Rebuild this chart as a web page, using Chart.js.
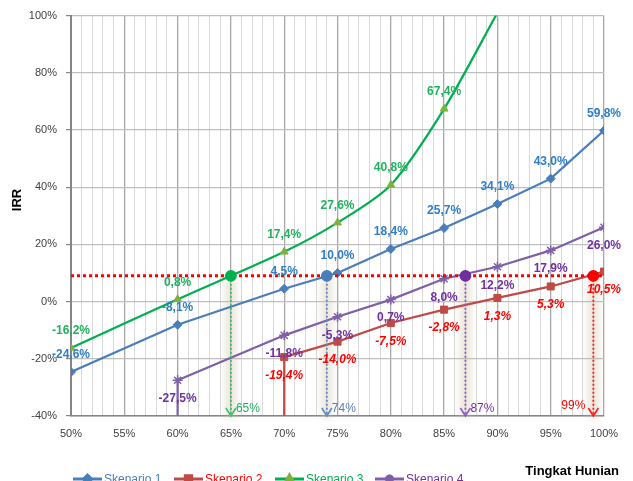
<!DOCTYPE html>
<html>
<head>
<meta charset="utf-8">
<script src="https://cdn.jsdelivr.net/npm/chart.js@4/dist/chart.umd.min.js"></script>
<style>
  html, body { margin: 0; padding: 0; background: #ffffff; }
  #wrap { width: 633px; height: 481px; position: relative; }
</style>
</head>
<body>
<div id="wrap"><canvas id="irrChart" width="633" height="481"></canvas></div>
<script>
// Occupancy levels (%) and IRR (%) per scenario
const occupancy1 = [50, 60, 70, 75, 80, 85, 90, 95, 100];
const irr1 = [-24.6, -8.1, 4.5, 10.0, 18.4, 25.7, 34.1, 43.0, 59.8];

const occupancy2 = [70, 70, 75, 80, 85, 90, 95, 100];
const irr2 = [-100, -19.4, -14.0, -7.5, -2.8, 1.3, 5.3, 10.5];

const occupancy3 = [50, 60, 70, 75, 80, 85, 90];
const irr3 = [-16.2, 0.8, 17.4, 27.6, 40.8, 67.4, 101];

const occupancy4 = [60, 60, 70, 75, 80, 85, 90, 95, 100];
const irr4 = [-100, -27.5, -11.8, -5.3, 0.7, 8.0, 12.2, 17.9, 26.0];

const seriesNames = ['Skenario 1', 'Skenario 2', 'Skenario 3', 'Skenario 4'];

// Target IRR and the occupancy at which each scenario reaches it
const hurdleRate = 9;
const breakEvenOccupancy = [65, 74, 87, 99];

// Axis ticks
const xTicks = [50, 55, 60, 65, 70, 75, 80, 85, 90, 95, 100];
const yTicks = [-40, -20, 0, 20, 40, 60, 80, 100];

const lineColors = ['#4A7EBB', '#BE4B48', '#00B050', '#7F60A8'];
const labelColors = ['#2F7EC6', '#FF0000', '#1FB25E', '#7030A0'];
const legendTextColors = ['#4A7EBB', '#FF0000', '#00B050', '#7030A0'];
const dropColors = ['#3FBF6E', '#5C88C4', '#8A5CC4', '#FF1A1A'];
const dropTextColors = ['#1FB25E', '#5A7DB0', '#7030A0', '#FF0000'];
const dotColors = ['#00B050', '#4A7EBB', '#7030A0', '#FF0000'];

const FONT = "'Liberation Sans', Arial, sans-serif";

function pts(xs, ys) { return xs.map((x, i) => ({ x: x, y: ys[i] })); }
function fmt(v) { return v.toFixed(1).replace('.', ',') + '%'; }

const seriesStyles = [
  { pointStyle: 'rectRot', pointRadius: 4.5, tension: 0 },
  { pointStyle: 'rect', pointRadius: 5, tension: 0 },
  { pointStyle: 'triangle', pointRadius: 4.5, tension: 0.28 },
  { pointStyle: 'star', pointRadius: 5, tension: 0 }
];
const markerFill = ['#4A7EBB', '#BE4B48', '#7DB33C', '#7F60A8'];
const markerStroke = ['#4A7EBB', '#BE4B48', '#7DB33C', '#7F60A8'];
const seriesData = [pts(occupancy1, irr1), pts(occupancy2, irr2), pts(occupancy3, irr3), pts(occupancy4, irr4)];

const datasets = seriesData.map((d, i) => ({
  label: seriesNames[i],
  data: d,
  borderColor: lineColors[i],
  backgroundColor: markerFill[i],
  pointBorderColor: markerStroke[i],
  pointBackgroundColor: markerFill[i],
  pointBorderWidth: i === 3 ? 1.5 : 1,
  borderWidth: 2.2,
  pointStyle: seriesStyles[i].pointStyle,
  pointRadius: d.map(p => (p.y < -40 || p.y > 100) ? 0 : seriesStyles[i].pointRadius),
  tension: seriesStyles[i].tension,
  order: 5,
  isSeries: true
}));

// Target IRR line
datasets.push({
  label: 'hurdle',
  data: [{ x: 50, y: hurdleRate }, { x: 100, y: hurdleRate }],
  borderColor: '#FF0000',
  borderWidth: 3,
  borderDash: [3, 3],
  borderCapStyle: 'butt',
  pointRadius: 0,
  order: 3
});

// Drop lines from the crossing points to the occupancy axis
breakEvenOccupancy.forEach((x, i) => {
  datasets.push({
    label: 'drop' + i,
    data: [{ x: x, y: hurdleRate }, { x: x, y: -40 }],
    borderColor: dropColors[i],
    borderWidth: 1.8,
    borderDash: [2, 2],
    borderCapStyle: 'butt',
    pointRadius: [5, 0],
    pointBackgroundColor: dotColors[i],
    pointBorderColor: dotColors[i],
    pointStyle: 'circle',
    order: 1
  });
});

const decorations = {
  id: 'decorations',
  beforeDatasetsDraw(chart) {
    const { ctx, scales: { x, y } } = chart;
    ctx.save();
    // soft shadow band behind each drop line
    breakEvenOccupancy.forEach((v) => {
      const px = x.getPixelForValue(v);
      const top = y.getPixelForValue(hurdleRate);
      const bot = y.getPixelForValue(-40);
      ctx.filter = 'blur(3px)';
      ctx.fillStyle = 'rgba(200, 190, 160, 0.35)';
      ctx.fillRect(px - 6, top + 2, 12, bot - top);
    });
    ctx.restore();
  },
  afterDatasetsDraw(chart) {
    const { ctx, scales: { x, y } } = chart;
    ctx.save();
    // value labels
    ctx.textAlign = 'center';
    ctx.textBaseline = 'middle';
    chart.data.datasets.forEach((ds, di) => {
      if (!ds.isSeries) return;
      const meta = chart.getDatasetMeta(di);
      ctx.fillStyle = labelColors[di];
      ctx.font = (di === 1 ? 'italic ' : '') + 'bold 12px ' + FONT;
      const above = (di === 0 || di === 2);
      meta.data.forEach((el, k) => {
        const v = ds.data[k].y;
        if (v < -40 || v > 100) return;
        const ty = above ? el.y - 17 : el.y + 18.5;
        ctx.fillText(fmt(v), el.x, ty);
      });
    });
    // arrowheads and occupancy labels at the bottom of the drop lines
    const bot = y.getPixelForValue(-40);
    breakEvenOccupancy.forEach((v, i) => {
      const px = x.getPixelForValue(v);
      ctx.strokeStyle = dropColors[i];
      ctx.lineWidth = 1.6;
      ctx.setLineDash([]);
      ctx.beginPath();
      ctx.moveTo(px - 5, bot - 8);
      ctx.lineTo(px, bot);
      ctx.lineTo(px + 5, bot - 8);
      ctx.stroke();
      ctx.fillStyle = dropTextColors[i];
      ctx.font = '12px ' + FONT;
      ctx.textBaseline = 'middle';
      if (i === 3) {
        ctx.textAlign = 'right';
        ctx.fillText(v + '%', px - 8, bot - 10);
      } else {
        ctx.textAlign = 'left';
        ctx.fillText(v + '%', px + 5, bot - 7);
      }
    });
    ctx.restore();
  },
  afterDraw(chart) {
    const { ctx } = chart;
    ctx.save();
    // y axis title
    ctx.fillStyle = '#000000';
    ctx.font = 'bold 13px ' + FONT;
    ctx.textAlign = 'center';
    ctx.textBaseline = 'middle';
    ctx.translate(17, 200);
    ctx.rotate(-Math.PI / 2);
    ctx.fillText('IRR', 0, 0);
    ctx.restore();

    ctx.save();
    // x axis title
    ctx.fillStyle = '#000000';
    ctx.font = 'bold 13px ' + FONT;
    ctx.textAlign = 'right';
    ctx.textBaseline = 'middle';
    ctx.fillText('Tingkat Hunian', 619, 471);

    // legend
    const legendX = [73, 174, 275, 375];
    const ly = 479;
    seriesNames.forEach((name, i) => {
      const x0 = legendX[i];
      ctx.strokeStyle = lineColors[i];
      ctx.lineWidth = 3;
      ctx.beginPath();
      ctx.moveTo(x0, ly);
      ctx.lineTo(x0 + 29, ly);
      ctx.stroke();
      ctx.fillStyle = markerFill[i];
      ctx.strokeStyle = markerStroke[i];
      Chart.helpers.drawPoint(ctx, {
        pointStyle: seriesStyles[i].pointStyle,
        radius: seriesStyles[i].pointRadius - 0.5,
        rotation: 0,
        borderWidth: i === 3 ? 1.5 : 1
      }, x0 + 14.5, ly);
      ctx.fillStyle = legendTextColors[i];
      ctx.font = '12px ' + FONT;
      ctx.textAlign = 'left';
      ctx.textBaseline = 'alphabetic';
      ctx.fillText(name, x0 + 31, 483);
    });
    ctx.restore();
  }
};

new Chart(document.getElementById('irrChart'), {
  type: 'line',
  data: { datasets: datasets },
  options: {
    responsive: false,
    animation: false,
    layout: { padding: { top: 15, right: 29, left: 0, bottom: 0 } },
    plugins: { legend: { display: false }, tooltip: { enabled: false } },
    elements: { line: { fill: false } },
    scales: {
      x: {
        type: 'linear',
        min: xTicks[0],
        max: xTicks[xTicks.length - 1],
        afterFit(s) { s.height = 65; },
        border: { color: '#868686', width: 1.5 },
        grid: {
          drawTicks: false,
          color: (c) => (c.tick && c.tick.value % 5 === 0) ? '#A8A8A8' : '#D9D9D9',
          lineWidth: (c) => (c.tick && c.tick.value % 5 === 0) ? 1.3 : 1
        },
        ticks: {
          stepSize: 1,
          maxTicksLimit: 200,
          autoSkip: false,
          maxRotation: 0,
          padding: 11,
          color: '#404040',
          font: { family: FONT, size: 11 },
          callback: (v) => xTicks.includes(v) ? v + '%' : ''
        }
      },
      y: {
        type: 'linear',
        min: yTicks[0],
        max: yTicks[yTicks.length - 1],
        afterFit(s) { s.width = 71; },
        border: { color: '#868686', width: 2 },
        grid: { color: '#BFBFBF', lineWidth: 1.2, tickLength: 5, tickColor: '#868686' },
        ticks: {
          stepSize: 20,
          padding: 9,
          color: '#404040',
          font: { family: FONT, size: 11 },
          callback: (v) => yTicks.includes(v) ? v + '%' : ''
        }
      }
    }
  },
  plugins: [decorations]
});
</script>
</body>
</html>
